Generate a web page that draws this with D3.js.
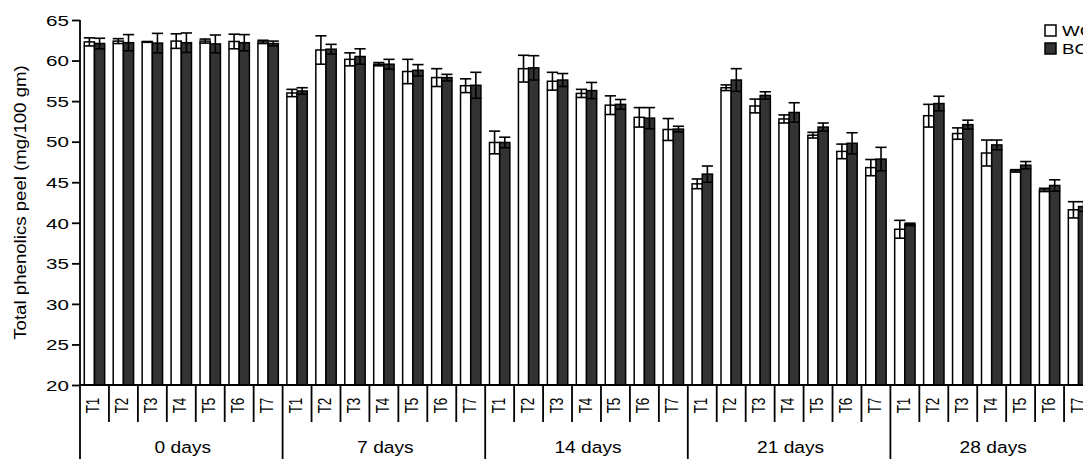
<!DOCTYPE html>
<html>
<head>
<meta charset="utf-8">
<script src="https://cdn.jsdelivr.net/npm/d3@7/dist/d3.min.js"></script>
<style>
  html, body { margin: 0; padding: 0; background: #fff; }
  svg { display: block; overflow: hidden; }
  text { font-family: "Liberation Sans", Arial, Helvetica, sans-serif; fill: #000; }
</style>
</head>
<body>
<svg id="chart" width="1083" height="459"></svg>
<script>
// Storage periods and treatments
const groups = ["0 days", "7 days", "14 days", "21 days", "28 days"];
const treatments = ["T1", "T2", "T3", "T4", "T5", "T6", "T7"];
const series = ["WC", "BC"];
const yTicks = [20, 25, 30, 35, 40, 45, 50, 55, 60, 65];

// Total phenolics in peel (mg/100 gm), one row per storage period
const wcMean = [
  [62.3, 62.4, 62.3, 62.4, 62.4, 62.35, 62.3],
  [56.0, 61.3, 60.15, 59.55, 58.65, 57.9, 56.9],
  [49.9, 59.0, 57.45, 55.95, 54.5, 53.0, 51.5],
  [44.8, 56.65, 54.4, 52.8, 50.8, 48.8, 46.8],
  [39.2, 53.2, 51.0, 48.6, 46.4, 44.05, 41.6]
];
const wcErr = [
  [0.5, 0.3, 0.05, 0.9, 0.25, 0.9, 0.2],
  [0.45, 1.75, 0.8, 0.2, 1.5, 1.1, 0.85],
  [1.4, 1.65, 1.1, 0.5, 1.15, 1.2, 1.35],
  [0.6, 0.35, 0.85, 0.5, 0.35, 0.9, 1.0],
  [1.1, 1.4, 0.7, 1.6, 0.15, 0.2, 1.0]
];
const bcMean = [
  [62.1, 62.2, 62.15, 62.2, 62.05, 62.2, 62.1],
  [56.25, 61.4, 60.5, 59.55, 58.8, 57.9, 56.95],
  [49.9, 59.1, 57.6, 56.3, 54.6, 52.9, 51.55],
  [46.0, 57.6, 55.7, 53.6, 51.8, 49.8, 47.85],
  [39.8, 54.7, 52.1, 49.6, 47.1, 44.6, 42.0]
];
const bcErr = [
  [0.65, 1.0, 1.2, 1.2, 1.1, 1.0, 0.3],
  [0.4, 0.6, 0.95, 0.6, 0.7, 0.4, 1.6],
  [0.65, 1.5, 0.8, 1.0, 0.6, 1.3, 0.35],
  [1.0, 1.4, 0.45, 1.2, 0.5, 1.3, 1.45],
  [0.15, 0.9, 0.55, 0.6, 0.45, 0.7, 0.6]
];

const fills = { WC: "#ffffff", BC: "#333333" };

const svg = d3.select("#chart");
const plotLeft = 80, plotTop = 20, baseY = 385, bottomY = 459;
const groupW = 202.6;

const y = d3.scaleLinear().domain([20, 65]).range([baseY, plotTop]);
const x0 = d3.scaleBand().domain(groups).range([plotLeft, plotLeft + groups.length * groupW]).padding(0);
const x1 = d3.scaleBand().domain(treatments).range([0, x0.bandwidth()]).padding(0);
const xs = d3.scaleBand().domain(series).range([0, x1.bandwidth()]).paddingInner(0).paddingOuter(0.42);

// Flatten into records
const records = [];
groups.forEach((g, gi) => {
  treatments.forEach((t, ti) => {
    records.push({ g, t, s: "WC", v: wcMean[gi][ti], e: wcErr[gi][ti] });
    records.push({ g, t, s: "BC", v: bcMean[gi][ti], e: bcErr[gi][ti] });
  });
});
const bx = d => x0(d.g) + x1(d.t) + xs(d.s);

// Bars
svg.append("g").selectAll("rect").data(records).join("rect")
  .attr("x", bx)
  .attr("y", d => y(d.v))
  .attr("width", xs.bandwidth())
  .attr("height", d => baseY - y(d.v))
  .attr("fill", d => fills[d.s])
  .attr("stroke", "#000")
  .attr("stroke-width", 1.5);

// Error bars
const eb = svg.append("g").attr("stroke", "#000").attr("stroke-width", 1.6).attr("fill", "none");
records.forEach(d => {
  const cx = bx(d) + xs.bandwidth() / 2;
  const hw = xs.bandwidth() / 2 + 0.5;
  const y1 = y(d.v + d.e), y2 = y(d.v - d.e);
  eb.append("line").attr("x1", cx).attr("x2", cx).attr("y1", y1).attr("y2", y2);
  eb.append("line").attr("x1", cx - hw).attr("x2", cx + hw).attr("y1", y1).attr("y2", y1);
  eb.append("line").attr("x1", cx - hw).attr("x2", cx + hw).attr("y1", y2).attr("y2", y2);
});

// Y axis
const yAxis = svg.append("g")
  .attr("transform", `translate(${plotLeft},0)`)
  .call(d3.axisLeft(y).tickValues(yTicks).tickSize(8).tickSizeOuter(0));
yAxis.select(".domain").remove();
yAxis.selectAll(".tick line").attr("stroke", "#000").attr("stroke-width", 1.8);
yAxis.selectAll(".tick text")
  .attr("x", 0).attr("dy", "0.36em")
  .attr("text-anchor", "end")
  .attr("transform", "translate(-11,0) scale(1.42,1)")
  .style("font-size", "14.5px")
  .style("font-family", "'Liberation Sans', Arial, sans-serif");

const axisLines = svg.append("g").attr("stroke", "#000").attr("stroke-width", 1.8);
// vertical axis line running down through the category rows
axisLines.append("line").attr("x1", plotLeft).attr("x2", plotLeft).attr("y1", y(65)).attr("y2", bottomY);
// baseline
axisLines.append("line").attr("x1", plotLeft).attr("x2", x0.range()[1]).attr("y1", baseY).attr("y2", baseY);

// Treatment dividers and group dividers
groups.forEach((g, gi) => {
  treatments.forEach((t, ti) => {
    if (ti > 0) {
      const xx = x0(g) + x1(t);
      axisLines.append("line").attr("x1", xx).attr("x2", xx).attr("y1", baseY).attr("y2", 422);
    }
  });
  if (gi > 0) {
    const xx = x0(g);
    axisLines.append("line").attr("x1", xx).attr("x2", xx).attr("y1", baseY).attr("y2", bottomY);
  }
});

// Treatment labels (rotated)
const tl = svg.append("g");
groups.forEach(g => {
  treatments.forEach(t => {
    const cx = x0(g) + x1(t) + x1.bandwidth() / 2;
    tl.append("text")
      .attr("transform", `translate(${cx + 5},405.5) scale(1.3,1) rotate(-90)`)
      .attr("text-anchor", "middle")
      .style("font-size", "13.5px")
      .text(t);
  });
});

// Group labels
const gl = svg.append("g");
groups.forEach(g => {
  const cx = x0(g) + x0.bandwidth() / 2;
  gl.append("text")
    .attr("transform", `translate(${cx + 1.5},453) scale(1.13,1)`)
    .attr("text-anchor", "middle")
    .style("font-size", "17px")
    .text(g);
});

// Y axis title
svg.append("text")
  .attr("transform", "translate(25.5,202.5) rotate(-90) scale(1.13,1)")
  .attr("text-anchor", "middle")
  .style("font-size", "16.5px")
  .text("Total phenolics peel (mg/100 gm)");

// Legend
const legend = svg.append("g");
series.forEach((s, i) => {
  const ly = 25 + i * 18;
  legend.append("rect")
    .attr("x", 1045).attr("y", ly).attr("width", 11).attr("height", 11)
    .attr("fill", fills[s]).attr("stroke", "#000").attr("stroke-width", 1.5);
  legend.append("text")
    .attr("transform", `translate(1062,${ly + 11}) scale(1.25,1)`)
    .style("font-size", "15px")
    .text(s);
});
</script>
</body>
</html>
